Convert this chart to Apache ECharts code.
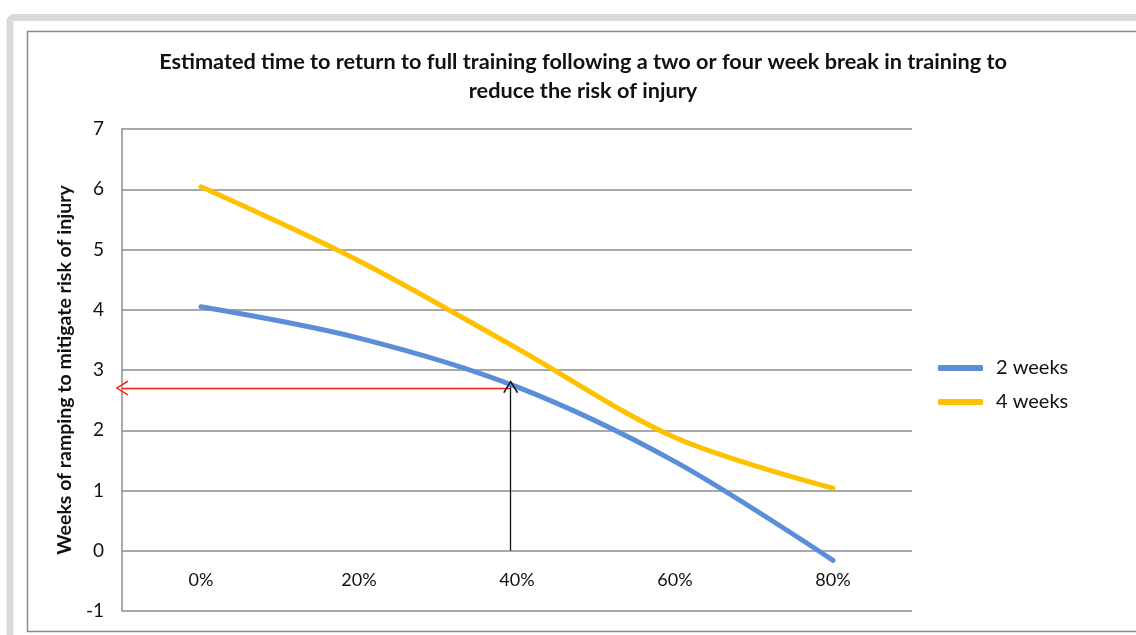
<!DOCTYPE html>
<html>
<head>
<meta charset="utf-8">
<script src="https://cdn.jsdelivr.net/npm/echarts@6/dist/echarts.min.js"></script>
<style>
  html, body { margin: 0; padding: 0; background: #fff; }
  #chart { width: 1136px; height: 635px; }
</style>
</head>
<body>
<div id="chart"></div>
<script>
// categories and series values
const breakPct = ['0%', '20%', '40%', '60%', '80%'];
const twoWeeks = [4.05, 3.53, 2.72, 1.48, -0.16];
const fourWeeks = [6.04, 4.81, 3.36, 1.88, 1.04];
const yTicks = [-1, 7, 1]; // min, max, interval

// annotation arrows (x in category units, 0 = '0%')
const arrowX = 1.96;
const arrowY = 2.7;
const plotLeftX = -0.5;

const FONT = 'Lato, "Liberation Sans", sans-serif';
const chevron = 'path://M10,0 L20,14 L18.4,15.2 L10,3 L1.6,15.2 L0,14 Z';

const chart = echarts.init(document.getElementById('chart'));

const options = {
  animation: false,
  textStyle: { fontFamily: FONT },
  title: {
    text: 'Estimated time to return to full training following a two or four week break in training to\nreduce the risk of injury',
    left: 583,
    top: 48,
    padding: 0,
    textAlign: 'center',
    textStyle: {
      fontFamily: FONT,
      fontSize: 21.7,
      fontWeight: 'bold',
      color: '#111',
      lineHeight: 29,
      align: 'center'
    }
  },
  legend: {
    orient: 'vertical',
    left: 938,
    top: 358,
    padding: 0,
    icon: 'roundRect',
    itemWidth: 45,
    itemHeight: 6,
    itemGap: 14,
    itemStyle: { borderWidth: 0 },
    textStyle: { fontFamily: FONT, fontSize: 20, color: '#111', padding: [0, 0, 0, 8] },
    data: ['2 weeks', '4 weeks']
  },
  graphic: [
    {
      type: 'rect',
      shape: { x: 10, y: 17.5, width: 1200, height: 700, r: 4 },
      style: { fill: 'none', stroke: '#d9d9d9', lineWidth: 7 }
    },
    {
      type: 'rect',
      shape: { x: 27.5, y: 31.5, width: 1200, height: 600 },
      style: { fill: 'none', stroke: '#8a8a8a', lineWidth: 1.5 }
    }
  ],
  grid: { left: 122, top: 129, width: 790, height: 482, outerBoundsMode: 'none' },
  xAxis: [
    {
      type: 'category',
      data: breakPct,
      boundaryGap: true,
      axisLine: { show: false },
      axisTick: { show: false },
      axisLabel: { inside: true, fontSize: 18, color: '#111', margin: 22 },
      splitLine: { show: false }
    },
    {
      type: 'value',
      min: plotLeftX,
      max: breakPct.length - 0.5,
      show: false
    }
  ],
  yAxis: {
    type: 'value',
    min: yTicks[0],
    max: yTicks[1],
    interval: yTicks[2],
    name: 'Weeks of ramping to mitigate risk of injury',
    nameLocation: 'middle',
    nameGap: 34,
    nameTextStyle: { fontFamily: FONT, fontSize: 19.5, fontWeight: 'bold', color: '#111' },
    axisLine: { show: true, onZero: false, lineStyle: { color: '#8c8c8c', width: 1.5 } },
    axisTick: { show: false },
    axisLabel: { fontSize: 19, color: '#111', margin: 18 },
    splitLine: { lineStyle: { color: '#8c8c8c', width: 1.5 } }
  },
  series: [
    {
      name: '2 weeks',
      type: 'line',
      data: twoWeeks,
      smooth: 0.33,
      showSymbol: false,
      color: '#5a8ed8',
      lineStyle: { width: 5, cap: 'round' },
      z: 3
    },
    {
      name: '4 weeks',
      type: 'line',
      data: fourWeeks,
      smooth: 0.33,
      showSymbol: false,
      color: '#ffc000',
      lineStyle: { width: 5, cap: 'round' },
      z: 3
    },
    {
      name: 'arrows',
      type: 'line',
      xAxisIndex: 1,
      data: [],
      z: 4,
      markLine: {
        silent: true,
        symbol: ['none', chevron],
        symbolSize: [15, 13],
        label: { show: false },
        data: [
          [
            { coord: [arrowX, arrowY], lineStyle: { color: '#ff1a1a', width: 1.3, type: 'solid' } },
            { coord: [plotLeftX, arrowY] }
          ],
          [
            { coord: [arrowX, 0], lineStyle: { color: '#111', width: 1.3, type: 'solid' } },
            { coord: [arrowX, arrowY + 0.02] }
          ]
        ]
      }
    }
  ]
};

chart.setOption(options);
</script>
</body>
</html>
